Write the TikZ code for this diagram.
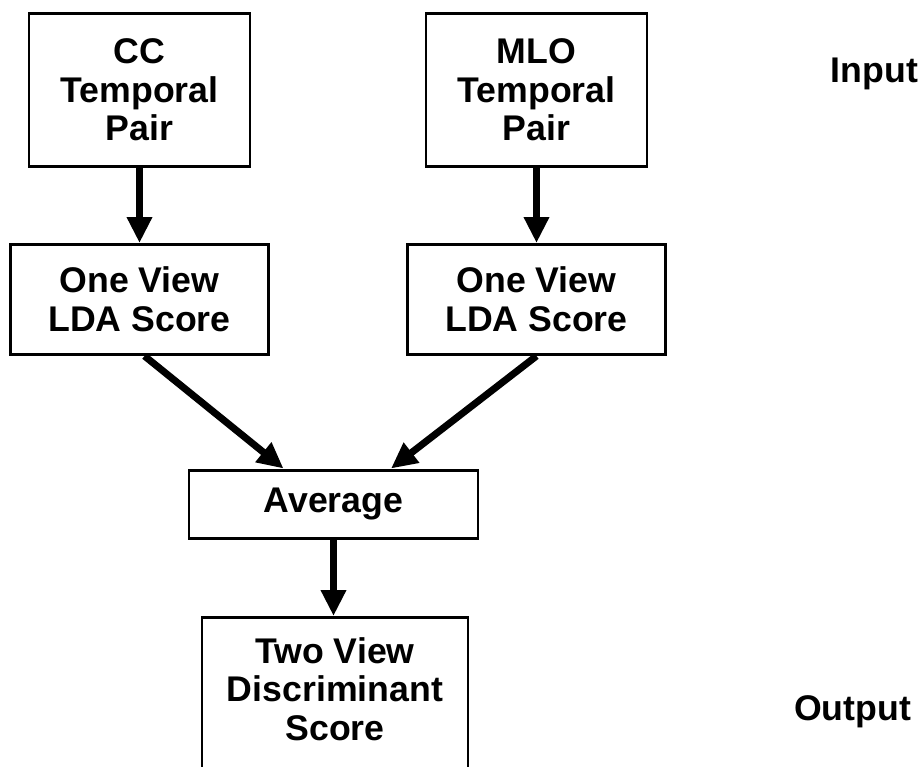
\documentclass[tikz,border=0pt]{standalone}
\usepackage{fontspec}
\setmainfont{Liberation Sans}
\usetikzlibrary{arrows.meta}

\begin{document}
\begin{tikzpicture}[
    every node/.style={font=\fontsize{20.3}{22}\selectfont\bfseries},
    box/.style={draw, line width=1.7pt, align=center, inner sep=0pt},
    flow/.style={line width=4pt, -{Triangle[length=0.52cm,width=0.48cm]}}]
  \useasboundingbox (0,0) rectangle (18.44,-15.32);
  % temporal pairs feeding the one view scores
  \foreach \view/\x [count=\n] in {CC/2.79, MLO/10.73} {
    \node[box, minimum width=4.42cm, minimum height=3.06cm] (pair\n) at (\x,-1.80) {\view\\Temporal\\Pair};
    \node[box, minimum width=5.15cm, minimum height=2.2cm] (lda\n) at (\x,-5.99) {One View\\LDA Score};
    \draw[flow] (pair\n) -- (lda\n);
  }
  \node[box, minimum width=5.78cm, minimum height=1.36cm] (avg) at (6.67,-10.08) {Average};
  \draw[flow] ([xshift=1mm]lda1.south) -- ([xshift=-1cm]avg.north);
  \draw[flow] (lda2.south) -- ([xshift=1.15cm]avg.north);
  % output box runs off the bottom edge
  \node[box, anchor=north, minimum width=5.32cm, minimum height=4cm] (two) at (6.70,-12.32) {};
  \node[align=center] (twolabel) at (6.70,-13.78) {Two View\\Discriminant\\Score};
  \draw[flow] (avg.south) -- (avg.south |- two.north);
  \node[anchor=base] (input) at (17.49,-1.64) {Input};
  \node[anchor=base] (output) at (17.05,-14.40) {Output};
\end{tikzpicture}
\end{document}
